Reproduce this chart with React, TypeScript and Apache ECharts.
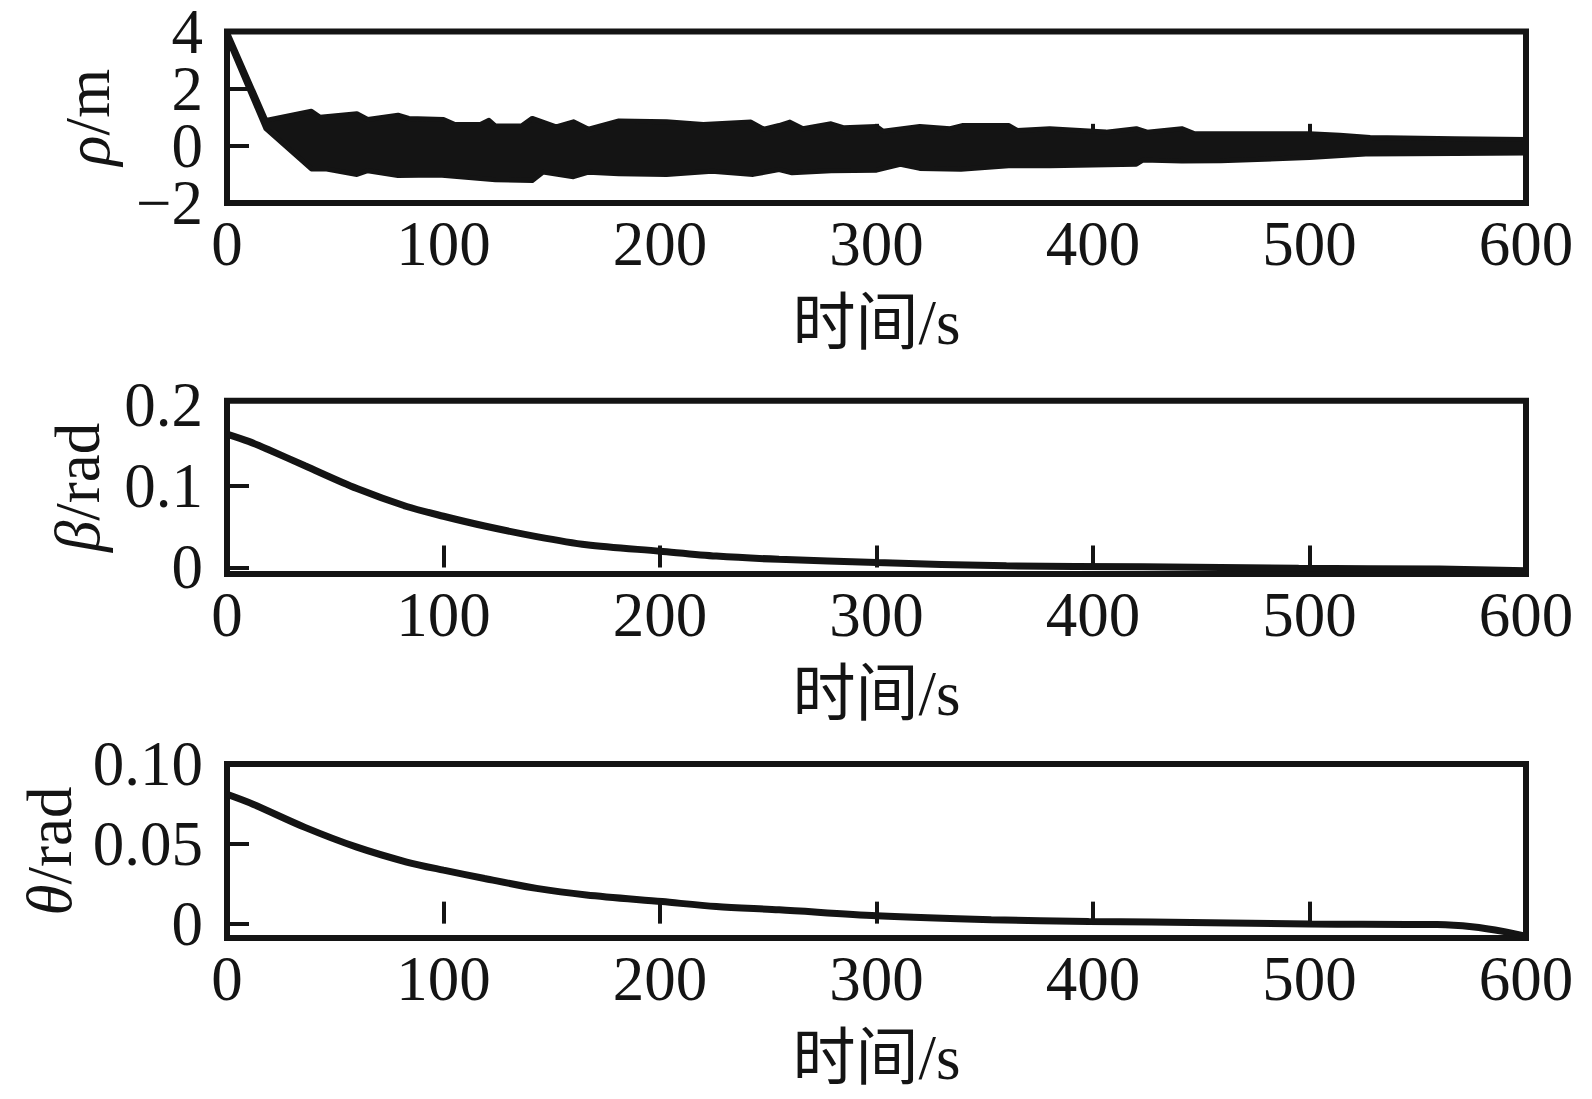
import React, { useEffect, useRef } from "react";
import * as echarts from "echarts";

// ---------- data ----------
const xTicks = [0, 100, 200, 300, 400, 500, 600];

// rho band (dense oscillation envelope)
const rhoUpperT = [0, 18, 39, 43, 60, 65, 79, 84, 100, 105, 117, 121, 124, 136, 141, 152, 160, 167, 181, 203, 220, 242, 248, 255, 260, 266, 279, 285, 300, 303, 320, 334, 340, 361, 365, 380, 406, 420, 425, 441, 447, 461, 500, 514, 528, 567, 600];
const rhoUpper = [4.0, 0.89, 1.21, 1.0, 1.12, 0.92, 1.07, 0.96, 0.92, 0.75, 0.75, 0.89, 0.69, 0.69, 0.96, 0.66, 0.84, 0.58, 0.87, 0.84, 0.75, 0.83, 0.58, 0.71, 0.83, 0.6, 0.77, 0.63, 0.68, 0.51, 0.68, 0.6, 0.71, 0.71, 0.54, 0.6, 0.48, 0.6, 0.48, 0.6, 0.42, 0.42, 0.42, 0.37, 0.29, 0.25, 0.22];
const rhoLowerT = [0, 18, 39, 46, 60, 65, 79, 98, 124, 141, 146, 160, 167, 181, 203, 224, 243, 255, 261, 279, 300, 311, 320, 339, 361, 380, 420, 423, 441, 459, 500, 526, 567, 600];
const rhoLower = [3.8, 0.6, -0.81, -0.81, -1.0, -0.87, -1.04, -1.02, -1.19, -1.21, -0.92, -1.08, -0.92, -0.98, -1.0, -0.89, -1.0, -0.83, -0.94, -0.87, -0.85, -0.65, -0.79, -0.82, -0.7, -0.7, -0.64, -0.5, -0.53, -0.52, -0.41, -0.29, -0.27, -0.25];

const betaT = [0, 10, 19, 36, 60, 83, 100, 119, 143, 166, 200, 226, 255, 300, 360, 423, 495, 560, 600];
const beta = [0.164, 0.155, 0.145, 0.125, 0.097, 0.075, 0.063, 0.051, 0.038, 0.028, 0.02, 0.014, 0.01, 0.006, 0.002, 0.001, -0.001, -0.002, -0.004];

const thetaT = [0, 12, 36, 60, 83, 100, 119, 143, 166, 201, 226, 255, 300, 353, 398, 427, 500, 559, 575, 590, 600];
const theta = [0.081, 0.0748, 0.0603, 0.0479, 0.0386, 0.0335, 0.0283, 0.0221, 0.018, 0.0138, 0.0107, 0.0087, 0.005, 0.0025, 0.0014, 0.001, -0.0002, -0.0006, -0.002, -0.005, -0.008];

// rho labels are split over two overlaid axes so that none is auto-hidden
const rhoLabelsA = [-2, 2];
const rhoLabelsB = [0, 4];
const rhoTicks = [0, 2];
const betaLabels = [0, 0.1, 0.2];
const betaTicks = [0, 0.1];
const thetaLabels = [0, 0.05, 0.1];
const thetaTicks = [0, 0.05];

// ---------- style ----------
const INK = "#141414";
const SERIF = "'Liberation Serif', 'Times New Roman', serif";
const FS = 63;

export default function App() {
  const ref = useRef<HTMLDivElement>(null);

  useEffect(() => {
    if (!ref.current) return;
    const chart = echarts.init(ref.current, null, { renderer: "svg" });

    const left = 227;
    const width = 1299;
    const grids = [
      { top: 30.5, height: 172.5 },
      { top: 400.7, height: 173.3 },
      { top: 764, height: 174 },
    ].map((g) => ({
      left,
      width,
      top: g.top,
      height: g.height,
      show: true,
      borderColor: INK,
      borderWidth: 6,
      backgroundColor: "transparent",
    }));

    const xAxis = [0, 1, 2].map((i) => ({
      type: "value",
      gridIndex: i,
      min: 0,
      max: 600,
      interval: 100,
      name: "时间/s",
      nameLocation: "middle",
      nameGap: 88,
      nameTextStyle: {
        fontFamily: "'Liberation Serif', 'Noto Sans CJK SC', serif",
        fontSize: FS,
        color: INK,
      },
      axisLine: { show: false },
      splitLine: { show: false },
      axisTick: {
        show: true,
        inside: true,
        length: 22,
        customValues: [100, 200, 300, 400, 500],
        lineStyle: { color: INK, width: 4 },
      },
      axisLabel: {
        margin: 13,
        fontFamily: SERIF,
        fontSize: FS,
        lineHeight: 56,
        color: INK,
        showMinLabel: true,
        showMaxLabel: true,
        customValues: xTicks,
      },
    }));

    const fmtNum = (v: number, digits: number) => {
      if (Math.abs(v) < 1e-9) return "0";
      const s = digits > 0 ? Math.abs(v).toFixed(digits) : String(Math.abs(v));
      return v < 0 ? "\u2212" + s : s;
    };

    const yBase = (
      i: number,
      min: number,
      max: number,
      labels: number[],
      ticks: number[] | null,
      digits: number,
      name: string,
      gap: number
    ) => ({
      type: "value",
      gridIndex: i,
      position: "left",
      offset: 0,
      min,
      max,
      name,
      nameLocation: "middle",
      nameRotate: 90,
      nameGap: gap,
      nameTextStyle: {
        fontFamily: SERIF,
        fontSize: FS,
        color: INK,
        rich: {
          i: { fontFamily: SERIF, fontSize: FS, fontStyle: "italic", color: INK },
        },
      },
      axisLine: { show: false },
      splitLine: { show: false },
      axisTick: ticks
        ? {
            show: true,
            inside: true,
            length: 22,
            customValues: ticks,
            lineStyle: { color: INK, width: 4 },
          }
        : { show: false },
      axisLabel: {
        margin: 24,
        fontFamily: SERIF,
        fontSize: FS,
        lineHeight: 52,
        color: INK,
        showMinLabel: true,
        showMaxLabel: true,
        customValues: labels,
        formatter: (v: number) => fmtNum(v, Math.abs(v) < 1e-9 ? 0 : digits),
      },
    });

    const yAxis = [
      yBase(0, -2, 4, rhoLabelsA, rhoTicks, 0, "{i|ρ}/m", 108),
      yBase(0, -2, 4, rhoLabelsB, null, 0, "", 108),
      yBase(1, -0.008, 0.205, betaLabels, betaTicks, 1, "{i|β}/rad", 118),
      yBase(2, -0.009, 0.1, thetaLabels, thetaTicks, 2, "{i|θ}/rad", 127),
    ];

    const series: any[] = [
      {
        type: "custom",
        xAxisIndex: 0,
        yAxisIndex: 0,
        silent: true,
        clip: true,
        data: [[0, 0]],
        renderItem: (_params: any, api: any) => {
          const pts: number[][] = [];
          rhoUpperT.forEach((t, k) => pts.push(api.coord([t, rhoUpper[k]])));
          for (let k = rhoLowerT.length - 1; k >= 0; k--) {
            pts.push(api.coord([rhoLowerT[k], rhoLower[k]]));
          }
          return {
            type: "polygon",
            shape: { points: pts },
            style: { fill: INK, stroke: INK, lineWidth: 5, lineJoin: "round" },
          };
        },
      },
      {
        type: "line",
        xAxisIndex: 1,
        yAxisIndex: 2,
        showSymbol: false,
        smooth: 0.3,
        data: betaT.map((t, k) => [t, beta[k]]),
        lineStyle: { color: INK, width: 7 },
      },
      {
        type: "line",
        xAxisIndex: 2,
        yAxisIndex: 3,
        showSymbol: false,
        smooth: 0.3,
        data: thetaT.map((t, k) => [t, theta[k]]),
        lineStyle: { color: INK, width: 7 },
      },
    ];

    chart.setOption({
      animation: false,
      backgroundColor: "#ffffff",
      grid: grids,
      xAxis,
      yAxis,
      series,
    });

    return () => chart.dispose();
  }, []);

  return (
    <div
      ref={ref}
      style={{ position: "absolute", left: 0, top: 0, width: 1592, height: 1099 }}
    />
  );
}
